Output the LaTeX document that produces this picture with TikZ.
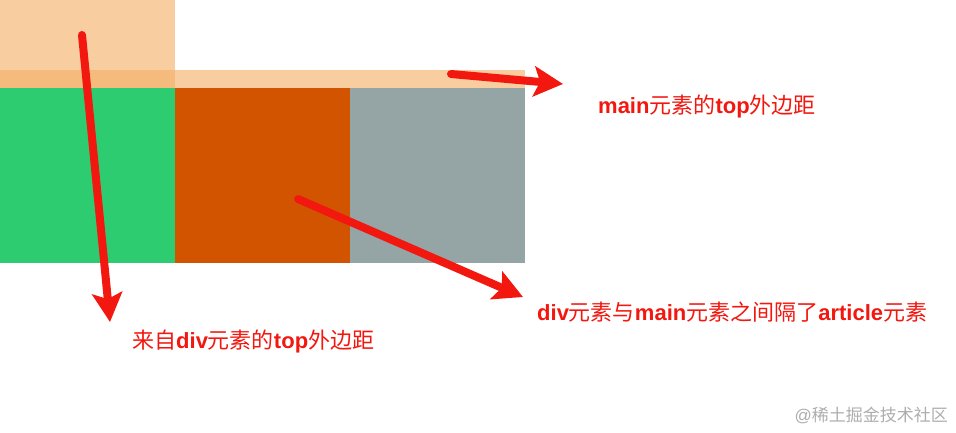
\documentclass[tikz,border=0pt]{standalone}
\usepackage{fontspec}
\setmainfont{Liberation Sans}
\newfontfamily\cjk{Noto Sans CJK SC}
\usetikzlibrary{arrows.meta,positioning}

\definecolor{peach}{HTML}{F8CD9F}
\definecolor{peachdark}{HTML}{F5BB7D}
\definecolor{divgreen}{HTML}{2ECC71}
\definecolor{artorange}{HTML}{D35400}
\definecolor{asidegray}{HTML}{95A5A6}
\definecolor{notered}{HTML}{F2170F}
\definecolor{markgray}{HTML}{ADADAD}
\newcommand{\zh}[1]{{\cjk\mdseries #1}}

\begin{document}
\begin{tikzpicture}[x=1pt,y=-1pt,
    pointer/.style={draw=notered,line width=8pt,line cap=round,-{Stealth[length=29pt,width=30pt,inset=6pt]}},
    note/.style={text=notered,font=\fontsize{22}{26}\selectfont\bfseries,inner sep=0pt,anchor=west},
    watermark/.style={text=markgray,font=\fontsize{17}{20}\selectfont,inner sep=0pt,anchor=east}]
    \useasboundingbox (0,0) rectangle (956,433);
    % margins and boxes
    \fill[peach] (0,0) rectangle (175,70);
    \fill[peach] (0,70) rectangle (525,88);
    \fill[peachdark] (0,70) rectangle (175,88);
    \fill[divgreen] (0,88) rectangle (175,263);
    \fill[artorange] (175,88) rectangle (350,263);
    \fill[asidegray] (350,88) rectangle (525,263);

    \node[note] (maintxt) at (598,106) {main\zh{元素的}top\zh{外边距}};
    \node[note] (divtxt) at (132,341) {\zh{来自}div\zh{元素的}top\zh{外边距}};
    \node[note] (arttxt) at (537,312) {div\zh{元素与}main\zh{元素之间隔了}article\zh{元素}};
    \node[watermark] (mark) at (948,415) {@\zh{稀土掘金技术社区}};

    \coordinate (divtop) at (82,35);
    \coordinate (divend) at (110,322);
    \coordinate (maintop) at (451,74);
    \coordinate (mainend) at (563,84);
    \coordinate (artmid) at (298,199);
    \coordinate (artend) at (523,297);
    \draw[pointer] (divtop) -- (divend);
    \draw[pointer] (maintop) -- (mainend);
    \draw[pointer] (artmid) -- (artend);
\end{tikzpicture}
\end{document}
